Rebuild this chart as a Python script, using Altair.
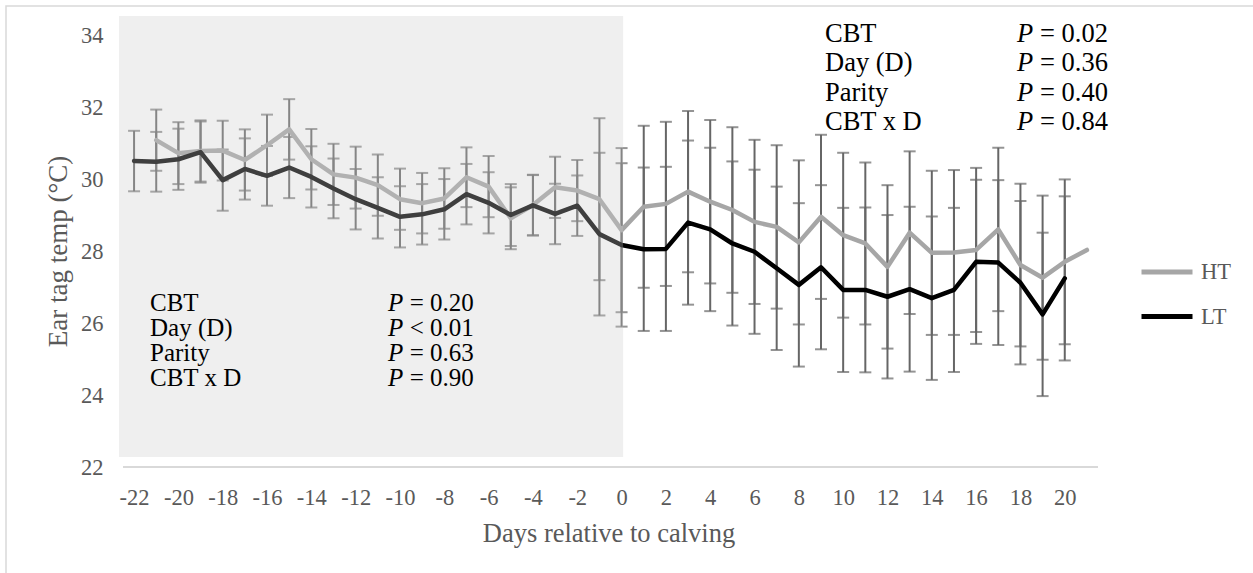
import altair as alt
import pandas as pd

# ---------------- data ----------------
days_ht = list(range(-21, 22))
ht_temp = [31.08, 30.72, 30.78, 30.79, 30.53, 30.94, 31.38, 30.55, 30.13, 30.04,
           29.83, 29.44, 29.33, 29.46, 30.05, 29.79, 28.91, 29.28, 29.77, 29.68,
           29.44, 28.58, 29.23, 29.31, 29.65, 29.37, 29.14, 28.81, 28.67, 28.24,
           28.95, 28.44, 28.21, 27.56, 28.51, 27.95, 27.96, 28.03, 28.60, 27.61,
           27.26, 27.70, 28.03]
ht_se = [0.85, 0.86, 0.85, 0.83, 0.85, 0.85, 0.84, 0.84, 0.85, 0.86,
         0.85, 0.85, 0.84, 0.84, 0.83, 0.85, 0.86, 0.84, 0.85, 0.85,
         2.25, 2.28, 2.25, 2.28, 2.24, 2.27, 2.30, 2.28, 2.27, 2.28,
         2.28, 2.29, 2.25, 2.27, 2.26, 2.28, 2.29, 2.28, 2.27, 2.26,
         2.28, 2.29, None]

days_lt = list(range(-22, 21))
lt_temp = [30.50, 30.48, 30.55, 30.75, 29.97, 30.28, 30.09, 30.32, 30.06, 29.74,
           29.44, 29.20, 28.95, 29.02, 29.16, 29.58, 29.34, 29.00, 29.27, 29.03,
           29.26, 28.47, 28.17, 28.05, 28.06, 28.79, 28.60, 28.21, 27.98, 27.52,
           27.06, 27.55, 26.92, 26.92, 26.73, 26.94, 26.69, 26.92, 27.70, 27.68,
           27.12, 26.24, 27.24]
lt_se = [0.84, 0.83, 0.85, 0.85, 0.85, 0.85, 0.83, 0.85, 0.85, 0.83,
         0.84, 0.85, 0.85, 0.84, 0.84, 0.84, 0.85, 0.86, 0.84, 0.84,
         0.84, 2.26, 2.27, 2.27, 2.28, 2.28, 2.27, 2.28, 2.28, 2.27,
         2.27, 2.28, 2.28, 2.29, 2.27, 2.29, 2.27, 2.28, 2.28, 2.29,
         2.27, 2.27, 2.28]

series_names = ["HT", "LT"]
series_colors = ["#a6a6a6", "#000000"]

x_ticks = list(range(-22, 21, 2))
y_ticks = list(range(22, 35, 2))

shade_days = [-22.68, 0.07]
shade_temp = [22.28, 34.53]
axis_days = [-22.5, 21.5]

terms = ["CBT", "Day (D)", "Parity", "CBT x D"]
left_p = ["= 0.20", "< 0.01", "= 0.63", "= 0.90"]
right_p = ["= 0.02", "= 0.36", "= 0.40", "= 0.84"]

# annotation anchors (data coordinates)
left_term_day, left_p_day = -21.28, -10.54
left_rows_temp = [26.56, 25.86, 25.17, 24.47]
right_term_day, right_p_day = 9.18, 17.84
right_rows_temp = [34.03, 33.22, 32.39, 31.58]

FONT = "Liberation Serif"

# ---------------- tables ----------------
ht = pd.DataFrame({"day": days_ht, "temp": ht_temp, "se": ht_se, "series": "HT"})
lt = pd.DataFrame({"day": days_lt, "temp": lt_temp, "se": lt_se, "series": "LT"})
df = pd.concat([ht, lt], ignore_index=True)
bars = df.dropna(subset=["se"]).copy()
bars["lo"] = bars["temp"] - bars["se"]
bars["hi"] = bars["temp"] + bars["se"]

shade = pd.DataFrame({"d1": [shade_days[0]], "d2": [shade_days[1]],
                      "t1": [shade_temp[0]], "t2": [shade_temp[1]]})
axis_df = pd.DataFrame({"d1": [axis_days[0]], "d2": [axis_days[1]], "t": [22]})

ann_left = pd.DataFrame({"term": terms, "pv": left_p, "temp": left_rows_temp,
                         "term_day": [left_term_day] * 4,
                         "p_day": [left_p_day] * 4, "P": ["P"] * 4})
ann_right = pd.DataFrame({"term": terms, "pv": right_p, "temp": right_rows_temp,
                          "term_day": [right_term_day] * 4,
                          "p_day": [right_p_day] * 4, "P": ["P"] * 4})

xscale = alt.Scale(domain=[-22.68, 21.5], nice=False, zero=False)
yscale = alt.Scale(domain=[22, 34.53], nice=False, zero=False)

x_axis = alt.Axis(values=x_ticks, labelExpr="toString(datum.value)", ticks=False,
                  domain=False, grid=False, labelPadding=30, labelBaseline="middle",
                  labelFlush=False, labelOverlap=False, labelFont=FONT,
                  labelFontSize=22.5, labelColor="#595959",
                  title="Days relative to calving", titleFont=FONT, titleFontSize=26.5,
                  titleFontWeight="normal", titleColor="#595959", titleY=66,
                  titleBaseline="middle")
y_axis = alt.Axis(values=y_ticks, ticks=False, domain=False, grid=False,
                  labelPadding=16, labelFont=FONT, labelFontSize=22.5,
                  labelColor="#595959", labelBaseline="middle",
                  title="Ear tag temp (°C)", titleFont=FONT, titleFontSize=27,
                  titleFontWeight="normal", titleColor="#595959", titleX=-61,
                  titleY=235, titleAlign="center", titleBaseline="middle")

X = alt.X("day:Q", scale=xscale, axis=x_axis)
Y = alt.Y("temp:Q", scale=yscale, axis=y_axis)

border = alt.Chart(pd.DataFrame({"a": [0]})).mark_rect(
    fill=None, stroke="#d9d9d9", strokeWidth=1.5
).encode(x=alt.value(-113), x2=alt.value(1150), y=alt.value(-10), y2=alt.value(570))

err_rule = alt.Chart(bars).mark_rule(color="#666666", strokeWidth=2).encode(
    x=alt.X("day:Q", scale=xscale),
    y=alt.Y("lo:Q", scale=yscale), y2="hi:Q")
cap_lo = alt.Chart(bars).mark_tick(color="#666666", orient="horizontal", size=12,
                                   thickness=2).encode(
    x=alt.X("day:Q", scale=xscale), y=alt.Y("lo:Q", scale=yscale))
cap_hi = alt.Chart(bars).mark_tick(color="#666666", orient="horizontal", size=12,
                                   thickness=2).encode(
    x=alt.X("day:Q", scale=xscale), y=alt.Y("hi:Q", scale=yscale))

lines = alt.Chart(df).mark_line(strokeWidth=4.5, strokeCap="round",
                                strokeJoin="round").encode(
    x=X, y=Y,
    color=alt.Color("series:N",
                    scale=alt.Scale(domain=series_names, range=series_colors),
                    legend=alt.Legend(title=None, orient="none", legendX=1020,
                                      legendY=246, symbolType="stroke",
                                      symbolSize=2601, symbolStrokeWidth=5,
                                      labelFont=FONT, labelFontSize=22.5,
                                      labelColor="#595959", clipHeight=20,
                                      rowPadding=21.6, labelOffset=6, padding=0)),
    order=alt.Order("day:Q"),
)

overlay = alt.Chart(shade).mark_rect(color="#cccccc", opacity=0.31).encode(
    x=alt.X("d1:Q", scale=xscale), x2="d2:Q",
    y=alt.Y("t1:Q", scale=yscale), y2="t2:Q")

axis_line = alt.Chart(axis_df).mark_rule(color="#d9d9d9", strokeWidth=2).encode(
    x=alt.X("d1:Q", scale=xscale), x2="d2:Q", y=alt.Y("t:Q", scale=yscale))


def stat_block(data, size):
    term = alt.Chart(data).mark_text(font=FONT, fontSize=size, align="left",
                                     baseline="middle", color="#000000").encode(
        x=alt.X("term_day:Q", scale=xscale), y=alt.Y("temp:Q", scale=yscale),
        text="term:N")
    p = alt.Chart(data).mark_text(font=FONT, fontSize=size, fontStyle="italic",
                                  align="left", baseline="middle",
                                  color="#000000").encode(
        x=alt.X("p_day:Q", scale=xscale), y=alt.Y("temp:Q", scale=yscale),
        text="P:N")
    val = alt.Chart(data).mark_text(font=FONT, fontSize=size, align="left",
                                    baseline="middle", dx=size * 0.87,
                                    color="#000000").encode(
        x=alt.X("p_day:Q", scale=xscale), y=alt.Y("temp:Q", scale=yscale),
        text="pv:N")
    return [term, p, val]


chart = alt.layer(
    border, err_rule, cap_lo, cap_hi, lines, overlay, axis_line,
    *stat_block(ann_left, 25), *stat_block(ann_right, 26.5)
).properties(
    width=979, height=451,
    padding={"left": 119, "top": 16, "right": 155, "bottom": 106},
    autosize=alt.AutoSizeParams(type="none"),
    background="white",
).configure(font=FONT).configure_view(stroke=None).configure_axis(
    labelFont=FONT, titleFont=FONT
).configure_legend(labelFont=FONT)

chart.save("out.html", embed_options={"renderer": "svg", "actions": False})
